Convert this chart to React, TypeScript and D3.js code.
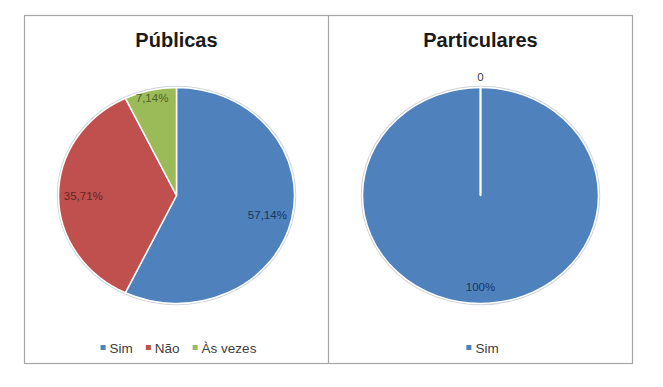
import React from "react";
import * as d3 from "d3";

// ---- data ----
const publicasCategories = ["Sim", "Não", "Às vezes"];
const publicasValues = [57.14, 35.71, 7.14];
const publicasLabels = ["57,14%", "35,71%", "7,14%"];

const particularesCategories = ["Sim", "Não"];
const particularesValues = [100, 0];
const particularesLabels = ["100%", "0"];
const particularesLegend = ["Sim"];

const chartTitles = ["Públicas", "Particulares"];

const COLORS: Record<string, string> = {
  Sim: "#4F81BD",
  "Não": "#C0504D",
  "Às vezes": "#9BBB59",
};
const LABEL_COLORS: Record<string, string> = {
  Sim: "#17375E",
  "Não": "#632523",
  "Às vezes": "#4F6228",
};

const W = 663;
const H = 387;
const FONT = "'Liberation Sans', Arial, sans-serif";

let measureCtx: CanvasRenderingContext2D | null = null;
function measure(t: string, size: number) {
  if (typeof document !== "undefined") {
    if (!measureCtx) measureCtx = document.createElement("canvas").getContext("2d");
    if (measureCtx) {
      measureCtx.font = `${size}px ${FONT}`;
      return measureCtx.measureText(t).width;
    }
  }
  return t.length * size * 0.5;
}

type PanelProps = {
  x0: number;
  x1: number;
  title: string;
  categories: string[];
  values: number[];
  labels: string[];
  legend: string[];
};

function Panel({ x0, x1, title, categories, values, labels, legend }: PanelProps) {
  const cx = (x0 + x1) / 2 + 0.5;
  const cy = 195.5;
  const ry = 108;
  const rx = 118;
  const sx = rx / ry;

  const pie = d3
    .pie<number>()
    .sort(null)
    .value((d) => d);
  const arcs = pie(values);
  const arc = d3.arc<d3.PieArcDatum<number>>().innerRadius(0).outerRadius(ry);

  const labelPos = (a: d3.PieArcDatum<number>) => {
    const span = a.endAngle - a.startAngle;
    let f = 0.79;
    if (span === 0) f = 1.1;
    else if (span >= 2 * Math.PI - 1e-6) f = 0.85;
    else if (span < 0.6) f = 0.93;
    const mid = (a.startAngle + a.endAngle) / 2;
    return [cx + Math.sin(mid) * ry * f * sx, cy - Math.cos(mid) * ry * f];
  };

  // legend layout
  const fontSize = 13.5;
  const sq = 5;
  const gap = 4;
  const itemGap = 13;
  const widths = legend.map((t) => sq + gap + measure(t, fontSize));
  const total = widths.reduce((s, w) => s + w, 0) + itemGap * (legend.length - 1);
  let lx = cx - total / 2 + 2;
  const legendY = 348;

  return (
    <g>
      <text
        x={cx}
        y={47}
        textAnchor="middle"
        fontFamily={FONT}
        fontWeight="bold"
        fontSize={20}
        fill="#1a1a1a"
      >
        {title}
      </text>
      <ellipse cx={cx} cy={cy} rx={rx + 1} ry={ry + 1} fill="none" stroke="#d0d5dc" strokeWidth={1.5} />
      <g transform={`translate(${cx},${cy}) scale(${sx},1)`}>
        {arcs.map((a, i) => (
          <path
            key={i}
            d={arc(a) || ""}
            fill={COLORS[categories[i]]}
            stroke="#ffffff"
            strokeWidth={1.5}
            vectorEffect="non-scaling-stroke"
            strokeLinejoin="round"
          />
        ))}
        {arcs
          .filter((a) => a.endAngle - a.startAngle === 0)
          .map((a, i) => (
            <line
              key={"z" + i}
              x1={0}
              y1={0}
              x2={Math.sin(a.startAngle) * ry}
              y2={-Math.cos(a.startAngle) * ry}
              stroke="#ffffff"
              strokeWidth={2}
              vectorEffect="non-scaling-stroke"
            />
          ))}
      </g>
      {arcs.map((a, i) => {
        const [x, y] = labelPos(a);
        const zero = a.endAngle - a.startAngle === 0;
        return (
          <text
            key={"l" + i}
            x={x}
            y={y}
            dy="0.35em"
            textAnchor="middle"
            fontFamily={FONT}
            fontSize={11.5}
            fill={zero ? "#404040" : LABEL_COLORS[categories[i]]}
          >
            {labels[i]}
          </text>
        );
      })}
      {legend.map((t, i) => {
        const x = lx;
        lx += widths[i] + itemGap;
        return (
          <g key={"lg" + i}>
            <rect x={x} y={legendY - sq / 2 - 0.5} width={sq} height={sq} fill={COLORS[t]} />
            <text
              x={x + sq + gap}
              y={legendY}
              dy="0.35em"
              fontFamily={FONT}
              fontSize={fontSize}
              fill="#404040"
            >
              {t}
            </text>
          </g>
        );
      })}
    </g>
  );
}

export default function App() {
  const left = 24;
  const mid = 328;
  const right = 632;
  const top = 15;
  const bottom = 363;
  return (
    <div style={{ position: "absolute", left: 0, top: 0 }}>
      <svg width={W} height={H} style={{ display: "block", background: "#fff" }}>
        <rect x={left + 0.5} y={top + 0.5} width={right - left} height={bottom - top} fill="#fff" stroke="#a6a6a6" strokeWidth={1.2} />
        <line x1={mid + 0.5} y1={top} x2={mid + 0.5} y2={bottom} stroke="#a6a6a6" strokeWidth={1.2} />
        <Panel
          x0={left}
          x1={mid}
          title={chartTitles[0]}
          categories={publicasCategories}
          values={publicasValues}
          labels={publicasLabels}
          legend={publicasCategories}
        />
        <Panel
          x0={mid}
          x1={right}
          title={chartTitles[1]}
          categories={particularesCategories}
          values={particularesValues}
          labels={particularesLabels}
          legend={particularesLegend}
        />
      </svg>
    </div>
  );
}
